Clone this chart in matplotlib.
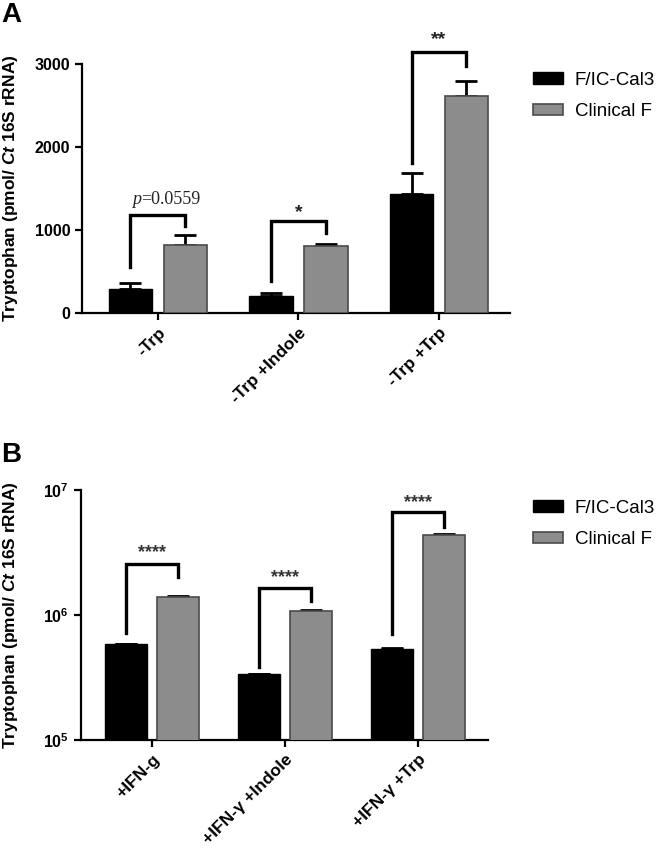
import matplotlib
matplotlib.use("Agg")
import matplotlib.pyplot as plt
import numpy as np
from matplotlib.patches import Patch

plt.rcParams['font.family'] = ['Liberation Sans', 'DejaVu Sans']
plt.rcParams['mathtext.fontset'] = 'custom'
plt.rcParams['mathtext.rm'] = 'Liberation Sans:bold'
plt.rcParams['mathtext.bf'] = 'Liberation Sans:bold'
plt.rcParams['mathtext.it'] = 'Liberation Sans:bold:italic'

# ---------------- data ----------------
series = ["F/IC-Cal3", "Clinical F"]

cats_a = ["-Trp", "-Trp +Indole", "-Trp +Trp"]
a_cal3 = [285, 200, 1434]
a_cal3_err = [80, 36, 253]
a_clin = [815, 807, 2618]
a_clin_err = [120, 23, 181]
a_sig = ["=0.0559", "*", "**"]
# bracket (left leg bottom, top, right leg bottom, label height)
a_br_left = [554, 385, 1807]
a_br_top = [1180, 1108, 3145]
a_br_right = [1048, 964, 2976]
a_lab_y = [1370, 1215, 3290]

cats_b = ["+IFN-g", "+IFN-\u03b3 +Indole", "+IFN-\u03b3 +Trp"]
b_cal3 = [5.86e5, 3.37e5, 5.38e5]
b_cal3_err = [4e3, 3e3, 3e3]
b_clin = [1.386e6, 1.07e6, 4.34e6]
b_clin_err = [2.5e4, 2.0e4, 7e4]
b_sig = ["****", "****", "****"]
b_br_left = [7.14e5, 3.85e5, 7.05e5]
b_br_top = [2.56e6, 1.65e6, 6.67e6]
b_br_right = [2.02e6, 1.29e6, 5.06e6]
b_lab_y = [3.13e6, 2.01e6, 7.87e6]

BLACK = "#000000"
GREY = "#8c8c8c"
GREY_EDGE = "#4a4a4a"

fig = plt.figure(figsize=(6.66, 8.48), dpi=100)

ylabel = "Tryptophan (pmol/ $\\mathit{Ct}$ 16S rRNA)"


def draw_panel(ax, cats, v1, e1, v2, e2, brl, brt, brr,
               width=0.31, off=0.195):
    x = np.arange(len(cats))
    ax.bar(x - off, v1, width, color=BLACK, edgecolor=BLACK, linewidth=1, zorder=3)
    ax.bar(x + off, v2, width, color=GREY, edgecolor=GREY_EDGE, linewidth=1.2, zorder=3)
    ax.errorbar(x - off, v1, yerr=[np.zeros(len(v1)), e1], fmt='none', ecolor=BLACK,
                elinewidth=2, capsize=8, capthick=2, zorder=2)
    ax.errorbar(x + off, v2, yerr=[np.zeros(len(v2)), e2], fmt='none', ecolor=BLACK,
                elinewidth=2, capsize=8, capthick=2, zorder=2)
    for i in range(len(cats)):
        xl, xr = x[i] - off, x[i] + off
        ax.plot([xl, xl, xr, xr], [brl[i], brt[i], brt[i], brr[i]], color=BLACK,
                lw=2.4, solid_joinstyle='miter', clip_on=False, zorder=4)
    ax.set_xticks(x)
    ax.set_xticklabels(cats, rotation=45, ha='right', rotation_mode='anchor',
                       fontweight='bold', fontsize=12.5)
    for s in ['top', 'right']:
        ax.spines[s].set_visible(False)
    for s in ['left', 'bottom']:
        ax.spines[s].set_linewidth(1.6)
    ax.tick_params(axis='both', width=1.6, length=5, direction='out')
    ax.tick_params(axis='y', labelsize=11.5)
    ax.set_ylabel(ylabel, fontweight='bold', fontsize=12.5)
    ax.yaxis.set_label_coords(20/666, 0.5, transform=fig.transFigure)
    ax.yaxis.label.set_transform(matplotlib.transforms.blended_transform_factory(
        fig.transFigure, ax.transAxes))
    return x


# ---------- Panel A ----------
axA = fig.add_axes([82/666, 1 - 313/848, (510-82)/666, (313-64)/848])
xa = draw_panel(axA, cats_a, a_cal3, a_cal3_err, a_clin, a_clin_err,
                a_br_left, a_br_top, a_br_right)
axA.set_ylim(0, 3000)
axA.set_xlim(-0.54, 2.505)
axA.set_yticks([0, 1000, 2000, 3000])
for t in axA.get_yticklabels():
    t.set_fontweight('bold')
# significance labels A
axA.text(xa[0] - 0.12, a_lab_y[0], "p", ha='right', va='center', fontsize=13,
         family='Liberation Serif', style='italic', color='#222222', clip_on=False)
axA.text(xa[0] - 0.12, a_lab_y[0], a_sig[0], ha='left', va='center', fontsize=13,
         family='Liberation Serif', color='#222222', clip_on=False)
for i in (1, 2):
    axA.text(xa[i], a_lab_y[i], a_sig[i], ha='center', va='center', fontsize=14,
             fontweight='bold', color='#222222', clip_on=False)

# ---------- Panel B ----------
axB = fig.add_axes([81/666, 1 - 740/848, (488-81)/666, (740-490)/848])
axB.set_yscale('log')
xb = draw_panel(axB, cats_b, b_cal3, b_cal3_err, b_clin, b_clin_err,
                b_br_left, b_br_top, b_br_right, width=0.32)
for i in range(3):
    axB.text(xb[i], b_lab_y[i], b_sig[i], ha='center', va='center', fontsize=13,
             fontweight='bold', color='#333333', clip_on=False)
axB.set_ylim(1e5, 1e7)
axB.set_xlim(-0.534, 2.526)
axB.set_yticks([1e5, 1e6, 1e7])
axB.set_yticklabels([r'$\mathbf{10^{5}}$', r'$\mathbf{10^{6}}$', r'$\mathbf{10^{7}}$'])
axB.yaxis.set_minor_locator(matplotlib.ticker.NullLocator())

# ---------- legends ----------
handles = [Patch(facecolor=BLACK, edgecolor=BLACK, label=series[0]),
           Patch(facecolor=GREY, edgecolor=GREY_EDGE, linewidth=1.2, label=series[1])]
for yy in [1 - 72/848, 1 - 500/848]:
    fig.legend(handles=handles, loc='upper left', bbox_to_anchor=(533/666, yy),
               frameon=False, fontsize=13.5, handlelength=1.6, handleheight=0.6,
               handletextpad=0.64, labelspacing=0.75, borderaxespad=0, borderpad=0)

# ---------- panel letters ----------
fig.text(1/666, 1 - 2/848, "A", fontsize=20, fontweight='bold', va='top', ha='left')
fig.text(1/666, 1 - 442/848, "B", fontsize=20, fontweight='bold', va='top', ha='left')

fig.savefig("out.png", dpi=100)
